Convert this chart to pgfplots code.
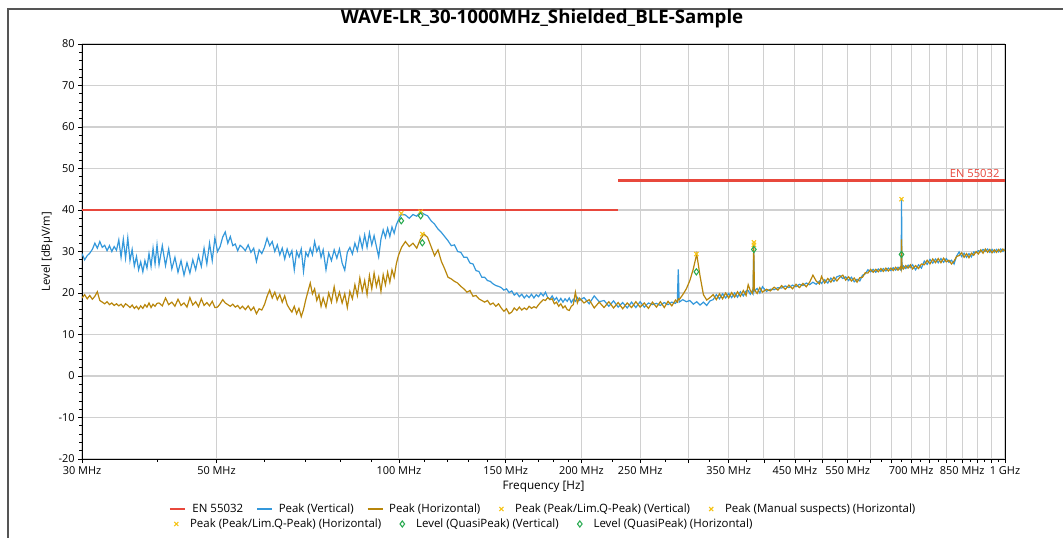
\documentclass[border=0pt]{standalone}
\usepackage{fontspec}
\setmainfont{Open Sans}
\usepackage{pgfplots}
\usepackage{pgfplotstable}
\pgfplotsset{compat=1.18}
\definecolor{limred}{RGB}{232,72,60}
\definecolor{vblue}{RGB}{52,152,219}
\definecolor{hgold}{RGB}{184,134,11}
\definecolor{xyellow}{RGB}{245,195,20}
\definecolor{qgreen}{RGB}{40,170,80}
\definecolor{gridgray}{RGB}{208,208,208}
\definecolor{framegray}{RGB}{85,85,85}

\pgfplotstableread{
f V H
30.0 29.5 18.8
30.3 28.0 19.6
30.6 29.0 18.6
30.9 29.6 19.4
31.2 30.5 18.5
31.5 32.0 19.2
31.8 30.8 20.3
32.1 32.4 18.2
32.4 31.0 17.8
32.7 31.5 17.4
33.0 30.2 17.9
33.3 31.4 17.2
33.6 30.0 17.6
33.9 31.2 17.0
34.2 30.3 17.4
34.5 32.8 16.9
34.8 28.6 17.3
35.1 33.0 16.6
35.4 28.4 17.4
35.7 33.3 17.0
36.0 27.8 16.5
36.3 30.5 17.1
36.6 26.5 16.3
36.9 28.8 16.8
37.2 25.6 16.1
37.5 27.5 16.9
37.8 25.1 16.3
38.1 27.8 17.2
38.4 26.0 16.6
38.7 29.5 17.6
39.0 26.4 16.5
39.3 30.8 17.3
39.6 27.0 16.8
39.9 31.6 17.5
40.2 26.8 17.6
40.7 31.4 16.9
41.2 26.6 18.8
41.7 30.6 17.2
42.2 25.8 17.8
42.7 28.6 16.8
43.2 25.0 18.5
43.7 27.8 17.0
44.2 24.3 17.6
44.7 27.3 16.6
45.2 24.8 18.9
45.7 28.0 17.1
46.2 25.6 17.9
46.7 29.0 16.7
47.2 26.4 18.6
47.7 30.8 17.0
48.2 27.0 17.7
48.7 32.0 16.9
49.2 27.8 18.0
49.7 33.3 16.5
50.2 30.0 16.6
50.7 31.2 17.4
51.2 33.5 18.4
51.7 34.7 17.6
52.2 32.0 17.2
52.7 33.6 16.8
53.2 31.4 17.3
53.7 31.8 16.6
54.2 30.2 17.0
54.7 31.5 16.2
55.2 31.0 16.8
55.8 30.2 16.0
56.4 31.6 16.9
57.0 29.8 15.8
57.6 30.8 16.6
58.2 27.6 15.0
58.8 30.4 16.2
59.4 29.5 15.9
60.0 31.0 17.2
60.6 33.2 19.2
61.2 31.4 20.7
61.8 32.4 18.8
62.4 30.0 20.2
63.0 31.6 18.4
63.6 29.2 19.6
64.2 30.8 17.8
64.8 28.2 19.3
65.4 30.6 17.2
66.0 28.8 16.2
66.6 30.2 15.4
67.2 25.6 16.8
67.8 30.0 15.0
68.4 28.6 16.3
69.0 30.6 14.3
69.6 25.2 16.0
70.2 29.8 18.4
70.8 28.8 20.4
71.4 30.8 22.4
72.0 29.2 19.8
72.6 32.4 21.0
73.2 30.0 18.2
73.8 31.2 19.6
74.4 28.6 16.8
75.0 30.4 18.8
75.8 25.6 16.6
76.6 29.6 20.0
77.4 27.8 17.8
78.2 30.4 21.5
79.0 28.4 18.0
79.8 30.6 20.2
80.6 27.2 17.6
81.4 25.5 19.8
82.2 29.8 16.5
83.0 31.0 20.4
83.8 29.4 18.6
84.6 32.0 22.0
85.4 30.2 19.4
86.2 33.4 23.6
87.0 30.8 20.4
87.8 34.0 23.0
88.6 31.0 19.6
89.4 34.5 24.2
90.2 31.6 21.0
91.0 33.8 24.8
91.8 31.2 21.6
92.6 28.7 23.8
93.4 33.0 20.4
94.2 35.2 24.4
95.0 33.4 22.0
95.8 35.6 25.0
96.6 33.6 22.6
97.4 35.9 25.6
98.2 34.4 23.8
99.0 36.4 27.0
99.8 37.6 29.0
101.0 39.0 31.0
102.5 38.8 32.4
104.0 38.0 31.2
105.5 38.9 32.0
107.0 38.5 30.8
108.5 39.6 33.0
110.0 39.0 34.2
111.5 38.6 33.4
113.0 37.4 31.2
114.5 36.6 29.0
116.0 35.4 30.4
117.5 34.6 27.6
119.0 33.6 25.8
120.5 32.6 23.8
122.0 31.4 23.4
123.5 31.6 22.8
125.0 30.0 22.4
126.5 29.8 21.6
128.0 28.6 21.0
129.5 28.6 20.2
131.0 27.2 20.6
132.5 27.0 19.2
134.0 25.4 19.4
135.5 25.2 18.6
137.0 23.8 18.2
138.5 23.8 17.8
140.0 23.0 18.2
141.5 22.8 17.2
143.0 22.2 17.6
144.5 21.8 16.8
146.0 21.6 17.4
147.5 21.3 16.4
149.0 20.7 15.6
150.5 21.0 16.2
152.0 20.1 15.0
153.5 20.5 15.4
155.0 19.5 16.4
156.5 20.0 15.8
158.0 19.1 16.6
159.5 19.7 15.9
161.0 18.8 16.4
162.5 19.5 16.0
164.0 18.9 16.8
165.5 19.7 16.3
167.0 18.8 16.7
168.5 19.6 16.4
170.0 19.1 17.2
171.5 20.0 17.8
173.0 19.3 18.4
174.5 20.2 18.2
176.0 18.9 18.9
177.5 18.5 18.4
179.0 19.3 18.6
180.5 18.3 17.4
182.0 18.9 17.8
183.5 17.9 16.8
185.0 18.7 17.4
186.5 17.8 16.4
188.0 18.6 16.9
189.5 18.0 16.0
191.0 18.8 15.8
192.5 17.7 16.8
194.0 18.5 17.2
195.5 18.0 20.2
197.0 18.9 17.6
198.5 18.2 18.8
202 18.9 17.6
206 17.4 18.4
210 19.3 16.4
214 17.9 17.8
218 18.2 16.5
222 16.8 17.9
226 18.1 16.4
230 16.6 17.7
234 17.7 16.2
238 16.4 17.6
242 17.8 16.5
246 16.5 17.9
250 17.9 16.6
254 16.6 17.6
258 17.6 16.3
262 17.2 17.8
266 17.5 16.6
270 17.0 17.9
274 17.7 16.5
278 17.2 18.0
282 17.8 16.9
286 17.5 18.3
288 18.2 17.8
289 25.7 18.6
290 17.8 18.4
294 18.4 19.6
298 17.9 21.0
302 18.2 23.0
306 17.3 25.8
310 17.9 29.4
314 17.1 24.0
318 17.8 19.6
322 17.0 18.3
326 18.1 18.9
330 18.4 19.6
334 19.6 18.4
338 18.6 19.8
342 19.8 18.6
346 18.8 20.0
350 19.9 18.8
354 18.9 20.1
358 20.0 19.0
362 19.0 20.3
366 20.3 19.2
370 19.3 20.6
374 20.5 19.4
377 20.6 22.0
380 19.7 20.6
383 20.6 19.9
384 20.1 20.6
385 30.0 31.8
386 20.5 20.8
390 21.1 19.9
394 20.0 21.3
398 21.5 20.2
404 20.4 20.9
410 20.9 20.5
416 20.8 21.4
422 21.3 20.7
428 21.2 21.8
434 21.7 20.9
440 21.3 21.9
446 21.9 21.0
452 21.5 22.1
458 22.1 21.3
464 21.8 22.3
470 22.4 21.5
476 22.0 22.6
482 22.6 24.3
488 22.1 22.9
494 22.9 22.2
498 22.3 24.0
504 23.2 22.4
510 22.4 23.5
516 23.6 22.6
522 22.8 23.8
528 23.9 22.9
534 24.2 23.8
540 23.5 24.3
546 23.9 23.1
552 23.0 23.9
558 23.8 22.9
564 22.7 23.6
570 23.3 22.6
576 22.9 23.7
582 24.3 23.8
588 24.6 24.9
594 25.6 24.8
600 25.1 25.7
606 25.7 25.0
612 25.0 25.7
618 25.8 25.1
624 25.2 25.9
630 25.9 25.2
636 25.3 26.0
642 26.0 25.3
648 25.4 26.0
654 26.1 25.4
660 25.5 26.2
666 26.2 25.5
672 25.6 26.3
674 26.1 25.7
675 42.6 32.9
676 25.8 26.4
680 26.5 25.8
686 25.9 26.6
692 26.7 26.0
698 26.1 26.8
704 26.8 25.8
712 25.6 26.6
720 26.8 25.9
728 26.0 27.0
736 27.7 26.8
744 26.9 27.9
752 28.1 27.0
760 27.2 28.2
768 28.2 27.3
776 27.3 28.3
784 28.3 27.3
792 27.4 28.4
800 28.3 27.5
808 27.4 27.9
816 27.9 27.0
824 27.0 27.7
832 28.9 28.8
840 29.9 29.0
848 28.8 29.7
856 29.6 28.6
864 28.6 29.5
872 29.5 28.5
880 28.7 29.6
888 29.9 29.1
896 29.7 30.0
904 30.2 29.4
912 29.9 30.4
920 30.5 29.6
928 30.0 30.6
936 30.6 29.8
944 29.8 30.5
952 30.5 29.7
960 29.8 30.4
968 30.5 29.8
976 29.9 30.5
984 30.6 29.9
992 30.0 30.6
1000 30.6 30.1
}\spec

\begin{document}
\begin{tikzpicture}
\path[use as bounding box] (0pt,0pt) rectangle (797.25pt,402.75pt);
\draw[line width=1.5pt, framegray] (6pt,-10pt) -- (6pt,396pt) -- (820pt,396pt);
\node[font=\fontsize{14}{16}\selectfont\bfseries] at (406.5pt,388.5pt) {WAVE-LR\_30-1000MHz\_Shielded\_BLE-Sample};

\begin{axis}[
  at={(61.5pt,58.5pt)}, anchor=south west,
  scale only axis, width=692.25pt, height=311.25pt,
  xmode=log, xmin=30, xmax=1000, ymin=-20, ymax=80,
  unbounded coords=jump,
  legend columns=-1,
  legend style={draw=none, fill=none, inner sep=0pt, column sep=0pt,
    font=\fontsize{8.6}{10}\selectfont,
    nodes={inner xsep=0pt, inner ysep=1pt},
    at={(axis description cs:0.0790,-0.1205)}, anchor=west},
  legend image code/.code={%
    \path (-10pt,0pt) (15.75pt,0pt);
    \draw[mark repeat=2,mark phase=2,#1,line width=1.6pt] plot coordinates {(0pt,0pt) (5.625pt,0pt) (11.25pt,0pt)};},
  xtick={30,50,100,150,200,250,300,350,400,450,500,550,600,650,700,750,800,850,900,950,1000},
  xticklabels={30 MHz,50 MHz,100 MHz,150 MHz,200 MHz,250 MHz,{},350 MHz,{},450 MHz,{},550 MHz,{},{},700 MHz,{},{},850 MHz,{},{},1 GHz},
  minor xtick={40,60,70,80,90,110,120,130,140,160,170,180,190,225,275,325,375,425,475,525,575,625,675,725,775,825,875,925,975},
  ytick={-20,-10,...,80}, minor y tick num=4,
  grid=major, major grid style={gridgray, line width=0.8pt},
  tick align=outside, xtick pos=bottom, ytick pos=left,
  major tick length=3pt, minor tick length=2pt,
  tick style={black, line width=0.5pt},
  axis line style={black, line width=0.6pt},
  ticklabel style={font=\fontsize{8.2}{10}\selectfont},
  /pgf/number format/assume math mode=true,
  yticklabel style={xshift=1pt},
  xticklabel style={yshift=1pt},
  xlabel={Frequency [Hz]},
  ylabel={Level [dBµV/m]},
  xlabel style={font=\fontsize{8.8}{10}\selectfont, at={(axis description cs:0.5,-0.0675)}, anchor=center},
  ylabel style={font=\fontsize{8.4}{10}\selectfont, at={(axis description cs:-0.0379,0.5)}, anchor=center},
]
\addplot[limred, line width=2.2pt] coordinates {(30,40) (230,40) (230,nan) (230,47) (1000,47)};
\addlegendentry{EN 55032}
\addplot[vblue, line width=0.9pt] table[x=f,y=V]{\spec};
\addlegendentry{Peak (Vertical)}
\addplot[hgold, line width=0.9pt] table[x=f,y=H]{\spec};
\addlegendentry{Peak (Horizontal)}
\addplot[only marks, mark=x, mark size=2.2pt, xyellow, mark options={line width=0.8pt}] coordinates {(100.9,39.2) (108.6,39.6) (674.9,42.6)};
\addlegendentry{Peak (Peak/Lim.Q-Peak) (Vertical)}
\addplot[only marks, mark=x, mark size=2.2pt, xyellow, mark options={line width=0.8pt}] coordinates {(385.2,32.2)};
\addlegendentry{Peak (Manual suspects) (Horizontal)}
\node[anchor=south east, text=limred, inner sep=1pt, font=\fontsize{8.4}{10}\selectfont, xshift=-3pt, yshift=1.5pt] at (axis cs:1000,47) {EN 55032};
\end{axis}

\begin{axis}[
  at={(61.5pt,58.5pt)}, anchor=south west,
  scale only axis, width=692.25pt, height=311.25pt,
  xmode=log, xmin=30, xmax=1000, ymin=-20, ymax=80,
  hide axis,
  legend columns=-1,
  legend style={draw=none, fill=none, inner sep=0pt, column sep=0pt,
    font=\fontsize{8.6}{10}\selectfont,
    nodes={inner xsep=0pt, inner ysep=1pt},
    at={(axis description cs:0.0790,-0.1566)}, anchor=west},
  legend image code/.code={%
    \path (-10pt,0pt) (15.75pt,0pt);
    \draw[mark repeat=2,mark phase=2,#1] plot coordinates {(0pt,0pt) (5.625pt,0pt) (11.25pt,0pt)};},
]
\addplot[only marks, mark=x, mark size=2.2pt, xyellow, mark options={line width=0.8pt}] coordinates {(109.3,34.2) (309.6,29.4) (385.2,31.6)};
\addlegendentry{Peak (Peak/Lim.Q-Peak) (Horizontal)}
\addplot[only marks, mark=diamond, mark size=2.3pt, qgreen, mark options={line width=0.8pt}] coordinates {(100.9,37.4) (108.6,38.6) (674.9,29.3)};
\addlegendentry{Level (QuasiPeak) (Vertical)}
\addplot[only marks, mark=diamond, mark size=2.3pt, qgreen, mark options={line width=0.8pt}] coordinates {(109.3,32.1) (309.6,25.1) (385.2,30.5)};
\addlegendentry{Level (QuasiPeak) (Horizontal)}
\end{axis}
\end{tikzpicture}
\end{document}
